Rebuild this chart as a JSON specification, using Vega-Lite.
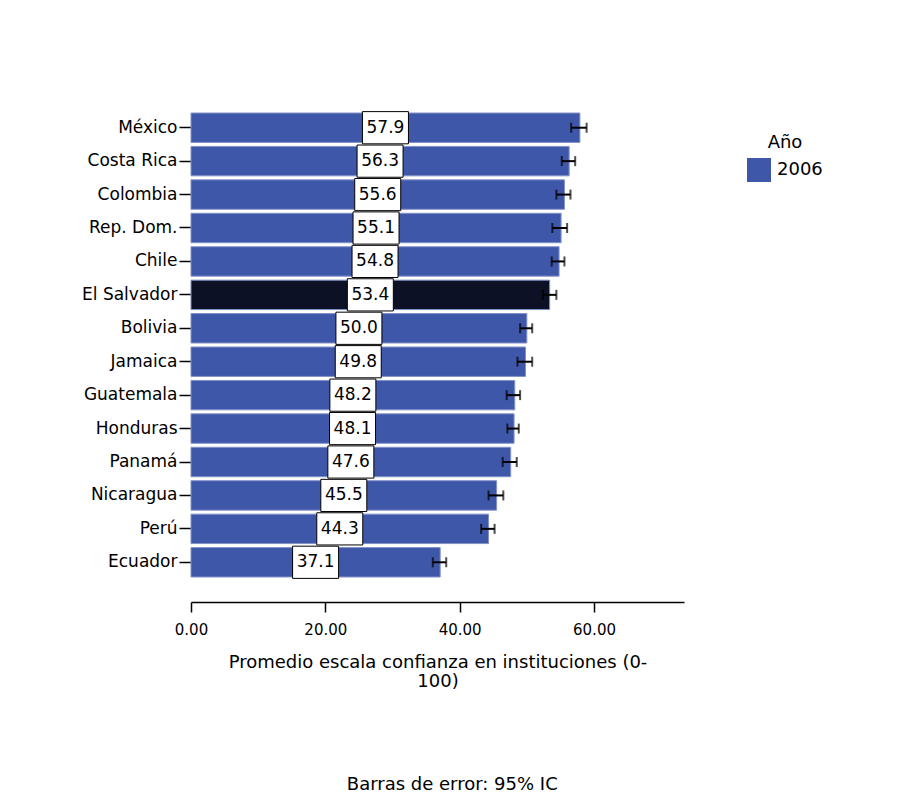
{
  "$schema": "https://vega.github.io/schema/vega-lite/v6.json",
  "autosize": "none",
  "padding": {"left": 191, "top": 111, "right": 217, "bottom": 229},
  "width": 493,
  "height": 468,
  "background": "white",
  "title": {
    "text": "Barras de error: 95% IC",
    "orient": "bottom",
    "anchor": "middle",
    "frame": "bounds",
    "offset": 86,
    "font": "DejaVu Sans",
    "fontSize": 18,
    "fontWeight": "normal",
    "color": "black"
  },
  "config": {
    "font": "DejaVu Sans",
    "view": {"stroke": null},
    "axis": {
      "labelColor": "black",
      "titleColor": "black",
      "labelFont": "DejaVu Sans",
      "titleFont": "DejaVu Sans",
      "grid": false
    }
  },
  "data": {
    "values": [
      {"pais": "México", "valor": 57.9, "inf": 56.6, "sup": 58.9, "anio": "2006"},
      {"pais": "Costa Rica", "valor": 56.3, "inf": 55.2, "sup": 57.2, "anio": "2006"},
      {"pais": "Colombia", "valor": 55.6, "inf": 54.4, "sup": 56.5, "anio": "2006"},
      {"pais": "Rep. Dom.", "valor": 55.1, "inf": 53.8, "sup": 56.0, "anio": "2006"},
      {"pais": "Chile", "valor": 54.8, "inf": 53.7, "sup": 55.6, "anio": "2006"},
      {"pais": "El Salvador", "valor": 53.4, "inf": 52.4, "sup": 54.4, "anio": "2006"},
      {"pais": "Bolivia", "valor": 50.0, "inf": 49.0, "sup": 50.8, "anio": "2006"},
      {"pais": "Jamaica", "valor": 49.8, "inf": 48.6, "sup": 50.8, "anio": "2006"},
      {"pais": "Guatemala", "valor": 48.2, "inf": 47.0, "sup": 49.0, "anio": "2006"},
      {"pais": "Honduras", "valor": 48.1, "inf": 47.1, "sup": 48.8, "anio": "2006"},
      {"pais": "Panamá", "valor": 47.6, "inf": 46.4, "sup": 48.5, "anio": "2006"},
      {"pais": "Nicaragua", "valor": 45.5, "inf": 44.3, "sup": 46.5, "anio": "2006"},
      {"pais": "Perú", "valor": 44.3, "inf": 43.2, "sup": 45.2, "anio": "2006"},
      {"pais": "Ecuador", "valor": 37.1, "inf": 36.0, "sup": 38.0, "anio": "2006"}
    ]
  },
  "transform": [{"calculate": "datum.valor / 2", "as": "medio"}],
  "encoding": {
    "y": {
      "field": "pais",
      "type": "nominal",
      "sort": {"field": "valor", "order": "descending"},
      "scale": {"paddingInner": 0.12, "paddingOuter": 0.06},
      "axis": {
        "title": null,
        "domain": false,
        "ticks": true,
        "tickSize": 12,
        "tickColor": "black",
        "tickWidth": 1.5,
        "labelPadding": 2,
        "labelFontSize": 17,
        "labelColor": "black"
      }
    }
  },
  "layer": [
    {
      "mark": {"type": "bar", "stroke": "#8291c8", "strokeWidth": 1},
      "encoding": {
        "x": {
          "field": "valor",
          "type": "quantitative",
          "scale": {"domain": [0, 73.4], "nice": false, "zero": true},
          "axis": {
            "values": [0, 20, 40, 60],
            "format": ".2f",
            "offset": 23,
            "domainColor": "black",
            "domainWidth": 1.5,
            "tickColor": "black",
            "tickWidth": 1.5,
            "tickSize": 10,
            "labelFontSize": 15,
            "labelFlush": false,
            "labelPadding": 10,
            "titleFontSize": 18,
            "titleFontWeight": "normal",
            "titlePadding": 16,
            "titleLineHeight": 19,
            "title": ["Promedio escala confianza en instituciones (0-", "100)"]
          }
        },
        "fill": {
          "condition": {"test": "datum.pais === 'El Salvador'", "value": "#0c1126"},
          "field": "anio",
          "type": "nominal",
          "scale": {"range": ["#3f57a9"]},
          "legend": {
            "title": "Año",
            "orient": "none",
            "legendX": 556,
            "legendY": 23,
            "titleAnchor": "middle",
            "titleFontSize": 18,
            "titleFontWeight": "normal",
            "titleColor": "black",
            "titlePadding": 6,
            "symbolType": "square",
            "symbolSize": 576,
            "symbolStrokeWidth": 0,
            "labelFontSize": 18,
            "labelColor": "black",
            "labelOffset": 6
          }
        }
      }
    },
    {
      "mark": {"type": "rule", "color": "black", "strokeWidth": 2},
      "encoding": {
        "x": {"field": "inf", "type": "quantitative"},
        "x2": {"field": "sup"}
      }
    },
    {
      "mark": {"type": "tick", "color": "black", "thickness": 2, "size": 10, "orient": "vertical"},
      "encoding": {"x": {"field": "inf", "type": "quantitative"}}
    },
    {
      "mark": {"type": "tick", "color": "black", "thickness": 2, "size": 10, "orient": "vertical"},
      "encoding": {"x": {"field": "sup", "type": "quantitative"}}
    },
    {
      "mark": {
        "type": "point",
        "shape": "M-1,-0.7L1,-0.7L1,0.7L-1,0.7Z",
        "size": 2116,
        "filled": true,
        "fill": "white",
        "stroke": "black",
        "strokeWidth": 1,
        "opacity": 1
      },
      "encoding": {"x": {"field": "medio", "type": "quantitative"}}
    },
    {
      "mark": {"type": "text", "color": "black", "fontSize": 17, "font": "DejaVu Sans"},
      "encoding": {
        "x": {"field": "medio", "type": "quantitative"},
        "text": {"field": "valor", "type": "quantitative", "format": ".1f"}
      }
    }
  ]
}
